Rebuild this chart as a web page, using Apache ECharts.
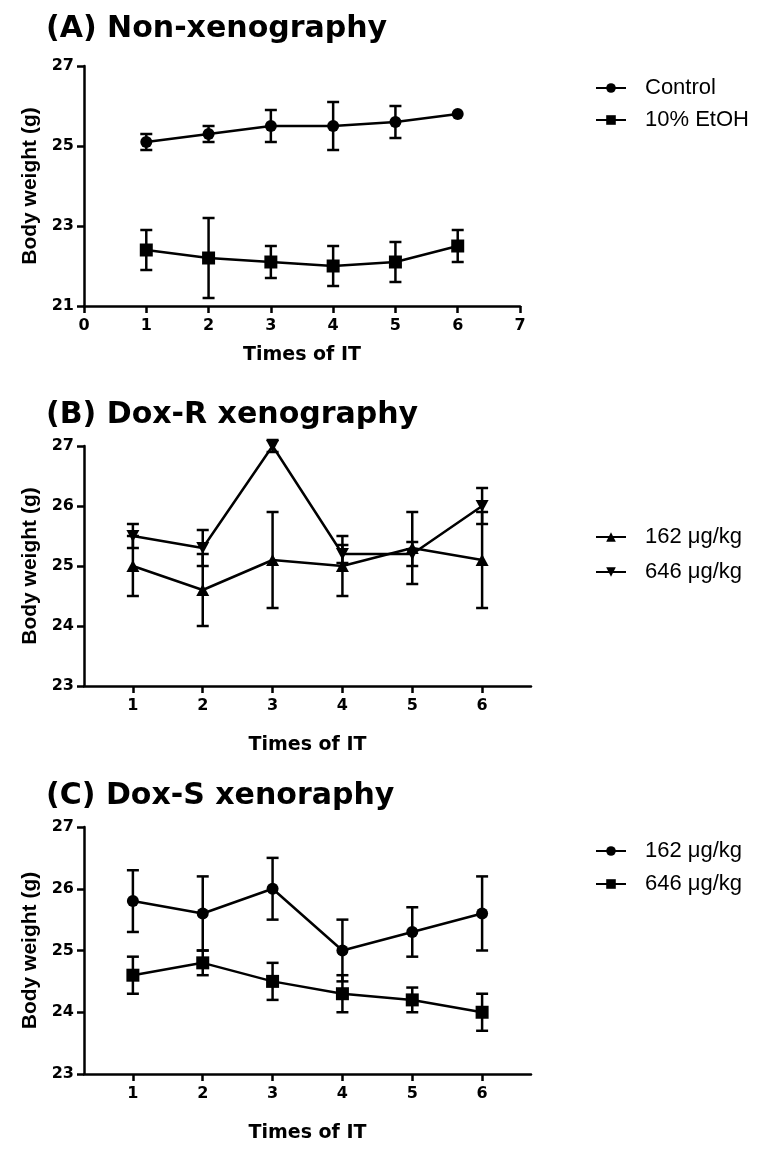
<!DOCTYPE html>
<html><head><meta charset="utf-8">
<script src="https://cdn.jsdelivr.net/npm/echarts@6/dist/echarts.min.js"></script>
<style>
html,body{margin:0;padding:0;background:#fff;width:758px;height:1152px;overflow:hidden;}
.p{position:absolute;left:0;width:758px;}
</style></head><body>
<div id="pa" class="p" style="top:0;height:370px"></div>
<div id="pb" class="p" style="top:370px;height:390px"></div>
<div id="pc" class="p" style="top:760px;height:392px"></div>
<script>
// ---- data ----
const times = [1, 2, 3, 4, 5, 6];
const xTicksA = [0, 1, 2, 3, 4, 5, 6, 7];
const xTicksBC = [1, 2, 3, 4, 5, 6];
const yTicksA = [21, 23, 25, 27];
const yTicksBC = [23, 24, 25, 26, 27];

const titleA = "(A) Non-xenography";
const titleB = "(B) Dox-R xenography";
const titleC = "(C) Dox-S xenoraphy";

const namesA = ["Control", "10% EtOH"];
const namesBC = ["162 μg/kg", "646 μg/kg"];

const aControlMean = [25.1, 25.3, 25.5, 25.5, 25.6, 25.8];
const aControlErr  = [0.2, 0.2, 0.4, 0.6, 0.4, 0];
const aEtohMean    = [22.4, 22.2, 22.1, 22.0, 22.1, 22.5];
const aEtohErr     = [0.5, 1.0, 0.4, 0.5, 0.5, 0.4];

const b162Mean = [25.0, 24.6, 25.1, 25.0, 25.3, 25.1];
const b162Err  = [0.5, 0.6, 0.8, 0.5, 0.6, 0.8];
const b646Mean = [25.5, 25.3, 27.0, 25.2, 25.2, 26.0];
const b646Err  = [0.2, 0.3, 0.1, 0.15, 0.2, 0.3];

const c162Mean = [25.8, 25.6, 26.0, 25.0, 25.3, 25.6];
const c162Err  = [0.5, 0.6, 0.5, 0.5, 0.4, 0.6];
const c646Mean = [24.6, 24.8, 24.5, 24.3, 24.2, 24.0];
const c646Err  = [0.3, 0.2, 0.3, 0.3, 0.2, 0.3];

// ---- styling helpers ----
const BLACK = '#000';
const LW = 2.5;
const INV_TRI = 'path://M0,0 L10,0 L5,9 Z';
const TRI = 'path://M5,0 L10,9 L0,9 Z';

function errRender(params, api) {
  const x = api.value(0), y = api.value(1), e = api.value(2);
  if (!e) return null;
  const t = api.coord([x, y + e]), b = api.coord([x, y - e]);
  const hw = 6;
  const st = { stroke: BLACK, lineWidth: LW };
  return { type: 'group', children: [
    { type: 'line', shape: { x1: t[0], y1: t[1], x2: b[0], y2: b[1] }, style: st },
    { type: 'line', shape: { x1: t[0] - hw, y1: t[1], x2: t[0] + hw, y2: t[1] }, style: st },
    { type: 'line', shape: { x1: b[0] - hw, y1: b[1], x2: b[0] + hw, y2: b[1] }, style: st }
  ]};
}

function errSeries(mean, err) {
  return {
    type: 'custom', renderItem: errRender, clip: false, silent: true, z: 2,
    encode: { x: 0, y: 1 },
    data: times.map((t, i) => [t, mean[i], err[i]])
  };
}
function lineSeries(name, mean, symbol, size) {
  return {
    type: 'line', name: name, symbol: symbol, symbolSize: size, z: 3,
    lineStyle: { color: BLACK, width: LW }, itemStyle: { color: BLACK, borderWidth: 0 },
    data: times.map((t, i) => [t, mean[i]]), clip: false
  };
}

const tickFont = { fontFamily: 'DejaVu Sans', fontWeight: 'bold', fontSize: 16, color: BLACK };

function panel(cfg) {
  return {
    animation: false,
    backgroundColor: '#fff',
    title: { text: cfg.title, left: 46, top: cfg.titleTop, padding: 0,
      textStyle: { fontFamily: 'DejaVu Sans', fontWeight: 'bold', fontSize: 30, color: BLACK } },
    legend: {
      orient: 'vertical', left: cfg.legLeft, top: cfg.legTop, itemWidth: 30, itemHeight: 12,
      itemGap: cfg.legGap, selectedMode: false,
      textStyle: { fontFamily: 'Liberation Sans', fontSize: 22, color: BLACK, lineHeight: 22, padding: [0, 0, 0, 14] },
      data: cfg.names
    },
    grid: { left: 84, top: cfg.gridTop, width: cfg.gridW, height: 247, containLabel: false },
    xAxis: {
      type: 'value', min: cfg.xMin, max: cfg.xMax,
      name: 'Times of IT', nameLocation: 'middle', nameGap: cfg.xNameGap,
      nameTextStyle: { fontFamily: 'DejaVu Sans', fontWeight: 'bold', fontSize: 19, color: BLACK },
      splitLine: { show: false },
      axisLine: { show: true, onZero: false, lineStyle: { color: BLACK, width: LW } },
      axisTick: { show: true, inside: false, length: 7, lineStyle: { color: BLACK, width: LW }, customValues: cfg.xTicks },
      axisLabel: Object.assign({ margin: 12, customValues: cfg.xTicks }, tickFont)
    },
    yAxis: {
      type: 'value', min: cfg.yMin, max: 27,
      name: 'Body weight (g)', nameLocation: 'middle', nameGap: 43,
      nameTextStyle: { fontFamily: 'Liberation Sans', fontWeight: 'bold', fontSize: 21, color: BLACK },
      splitLine: { show: false },
      axisLine: { show: true, onZero: false, lineStyle: { color: BLACK, width: LW } },
      axisTick: { show: true, inside: false, length: 7, lineStyle: { color: BLACK, width: LW }, customValues: cfg.yTicks },
      axisLabel: Object.assign({ margin: 10, customValues: cfg.yTicks }, tickFont)
    },
    series: cfg.series
  };
}

const optA = panel({
  title: titleA, titleTop: 14, names: namesA, legLeft: 590, legTop: 72, legGap: 10,
  gridTop: 66, gridW: 436, xMin: 0, xMax: 7, xTicks: xTicksA, yMin: 21, yTicks: yTicksA, xNameGap: 40,
  series: [
    errSeries(aControlMean, aControlErr), errSeries(aEtohMean, aEtohErr),
    lineSeries(namesA[0], aControlMean, 'circle', 12),
    lineSeries(namesA[1], aEtohMean, 'rect', 13)
  ]
});
const optB = panel({
  title: titleB, titleTop: 30, names: namesBC, legLeft: 590, legTop: 151, legGap: 13,
  gridTop: 76, gridW: 447, xMin: 0.3, xMax: 6.7, xTicks: xTicksBC, yMin: 23, yTicks: yTicksBC, xNameGap: 50,
  series: [
    errSeries(b162Mean, b162Err), errSeries(b646Mean, b646Err),
    lineSeries(namesBC[0], b162Mean, TRI, [13, 12]),
    lineSeries(namesBC[1], b646Mean, INV_TRI, [13, 12])
  ]
});
const optC = panel({
  title: titleC, titleTop: 21, names: namesBC, legLeft: 590, legTop: 75, legGap: 11,
  gridTop: 67, gridW: 447, xMin: 0.3, xMax: 6.7, xTicks: xTicksBC, yMin: 23, yTicks: yTicksBC, xNameGap: 50,
  series: [
    errSeries(c162Mean, c162Err), errSeries(c646Mean, c646Err),
    lineSeries(namesBC[0], c162Mean, 'circle', 12),
    lineSeries(namesBC[1], c646Mean, 'rect', 13)
  ]
});

echarts.init(document.getElementById('pa'), null, { renderer: 'canvas' }).setOption(optA);
echarts.init(document.getElementById('pb'), null, { renderer: 'canvas' }).setOption(optB);
echarts.init(document.getElementById('pc'), null, { renderer: 'canvas' }).setOption(optC);
</script>
</body></html>
